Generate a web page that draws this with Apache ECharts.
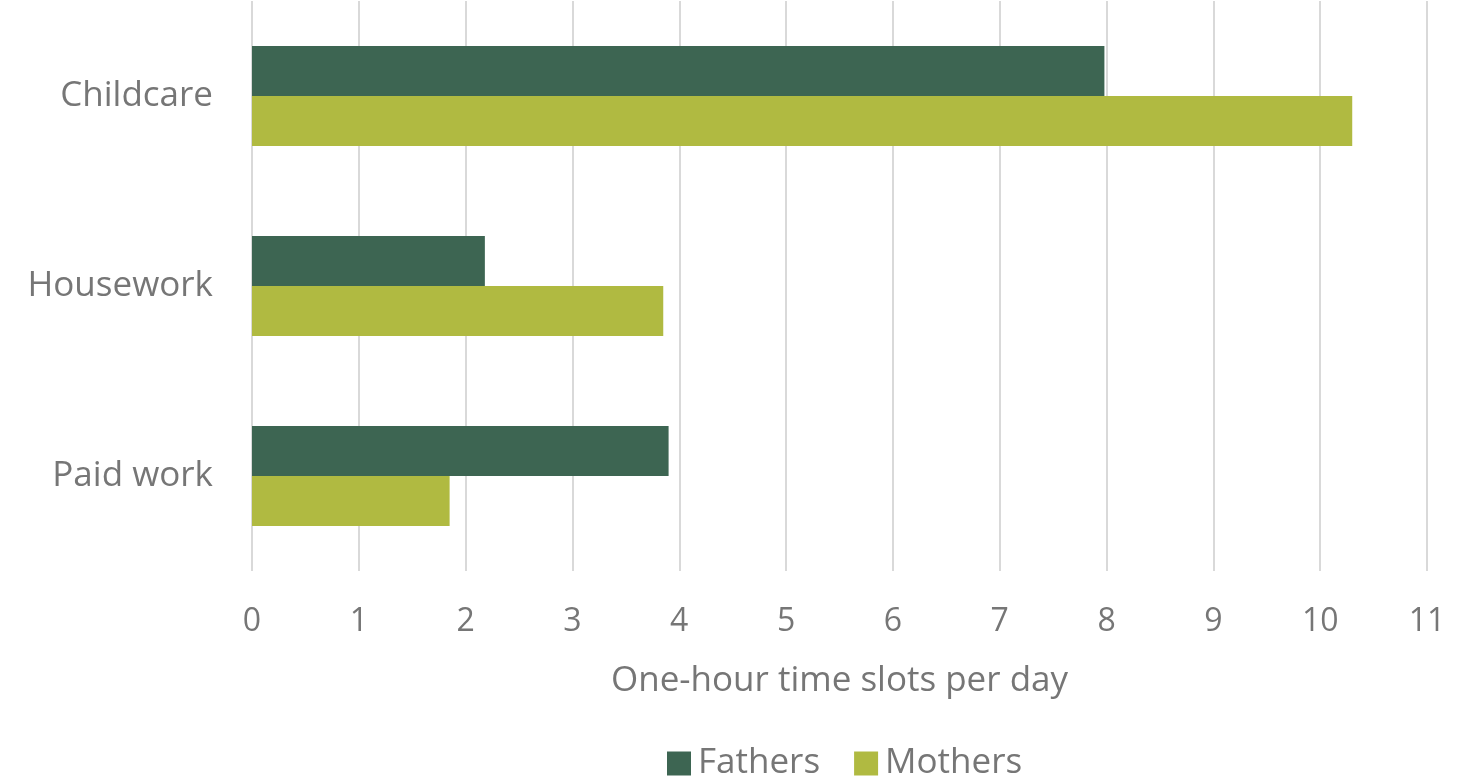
<!DOCTYPE html>
<html><head><meta charset="utf-8">
<script src="https://cdn.jsdelivr.net/npm/echarts@6/dist/echarts.min.js"></script>
<style>html,body{margin:0;padding:0;background:#fff}#c{width:1458px;height:781px}</style>
</head><body><div id="c"></div>
<script>
const categories = ["Childcare", "Housework", "Paid work"];
const fathers = [7.98, 2.18, 3.9];
const mothers = [10.3, 3.85, 1.85];
const seriesNames = ["Fathers", "Mothers"];
const axisTitle = "One-hour time slots per day";

const font = "'Open Sans', sans-serif";
const txt = '#767676';
const chart = echarts.init(document.getElementById('c'));
chart.setOption({
  animation: false,
  grid: {left: 252, right: 31, top: 1, bottom: 210, containLabel: false},
  legend: {
    data: seriesNames, top: 746, left: 667, padding: 0, itemWidth: 24, itemHeight: 24, itemGap: 34,
    icon: 'rect',
    textStyle: {fontFamily: font, fontSize: 35, color: txt, padding: [0, 0, 0, 2]}
  },
  xAxis: {
    type: 'value', min: 0, max: 11, interval: 1,
    name: axisTitle, nameLocation: 'middle', nameGap: 93,
    nameTextStyle: {fontFamily: font, fontSize: 35, color: txt},
    axisLine: {show: false}, axisTick: {show: false},
    axisLabel: {fontFamily: font, fontSize: 32, color: txt, margin: 35},
    splitLine: {lineStyle: {color: '#d9d9d9', width: 2}}
  },
  yAxis: {
    type: 'category', data: categories, inverse: true,
    axisLine: {show: false}, axisTick: {show: false},
    axisLabel: {fontFamily: font, fontSize: 35, color: txt, margin: 39, padding: [4, 0, 0, 0]}
  },
  series: [
    {name: seriesNames[0], type: 'bar', data: fathers, barWidth: 50, barGap: '0%', itemStyle: {color: '#3d6552'}},
    {name: seriesNames[1], type: 'bar', data: mothers, barWidth: 50, barGap: '0%', itemStyle: {color: '#b0ba41'}}
  ]
});
</script></body></html>
